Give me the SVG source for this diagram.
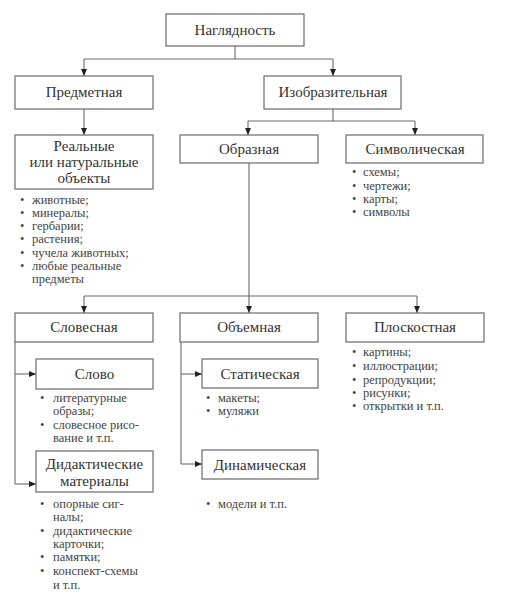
<svg xmlns="http://www.w3.org/2000/svg" width="508" height="608" viewBox="0 0 508 608" font-family="'Liberation Serif', 'DejaVu Serif', serif">
<style>
.box{fill:#fff;stroke:#6a6a6a;stroke-width:1.2}
.t{font-size:15px;fill:#333;text-anchor:middle}
.b{font-size:12.5px;fill:#444}
.c{fill:none;stroke:#6a6a6a;stroke-width:1.1}
</style>
<defs>
<marker id="ar" markerWidth="8" markerHeight="8" refX="7" refY="4" orient="auto" markerUnits="userSpaceOnUse">
<path d="M0,1 L7,4 L0,7 Z" fill="#222"/>
</marker>
</defs>
<rect width="508" height="608" fill="#fff"/>
<g id="connectors">
<path class="c" d="M235,46 V59 M84,59 H333"/>
<path class="c" d="M84,59 V76" marker-end="url(#ar)"/>
<path class="c" d="M333,59 V76" marker-end="url(#ar)"/>
<path class="c" d="M84,109 V135" marker-end="url(#ar)"/>
<path class="c" d="M333,109 V121 M248,121 H415"/>
<path class="c" d="M248,121 V135" marker-end="url(#ar)"/>
<path class="c" d="M415,121 V135" marker-end="url(#ar)"/>
<path class="c" d="M249,163 V296 M84,296 H417"/>
<path class="c" d="M84,296 V313" marker-end="url(#ar)"/>
<path class="c" d="M249,296 V313" marker-end="url(#ar)"/>
<path class="c" d="M417,296 V313" marker-end="url(#ar)"/>
<path class="c" d="M15,342 V484"/>
<path class="c" d="M15,374 H36" marker-end="url(#ar)"/>
<path class="c" d="M15,484 H36" marker-end="url(#ar)"/>
<path class="c" d="M181,342 V464"/>
<path class="c" d="M181,374 H202" marker-end="url(#ar)"/>
<path class="c" d="M181,464 H202" marker-end="url(#ar)"/>
</g>
<g id="n-naglyadnost">
<rect class="box" x="166" y="14" width="138" height="32"/>
<text class="t" x="235" y="35">Наглядность</text>
</g>
<g id="n-predmetnaya">
<rect class="box" x="15" y="76" width="138" height="33"/>
<text class="t" x="84" y="97">Предметная</text>
</g>
<g id="n-izobrazitelnaya">
<rect class="box" x="264" y="76" width="137" height="33"/>
<text class="t" x="333" y="97">Изобразительная</text>
</g>
<g id="n-realnye">
<rect class="box" x="15" y="135" width="138" height="54"/>
<text class="t" x="84" y="151">Реальные</text>
<text class="t" x="84" y="167">или натуральные</text>
<text class="t" x="84" y="183">объекты</text>
<text class="b" y="204"><tspan x="20">•</tspan><tspan x="32">животные;</tspan></text>
<text class="b" y="217"><tspan x="20">•</tspan><tspan x="32">минералы;</tspan></text>
<text class="b" y="230"><tspan x="20">•</tspan><tspan x="32">гербарии;</tspan></text>
<text class="b" y="243"><tspan x="20">•</tspan><tspan x="32">растения;</tspan></text>
<text class="b" y="257"><tspan x="20">•</tspan><tspan x="32">чучела животных;</tspan></text>
<text class="b" y="270"><tspan x="20">•</tspan><tspan x="32">любые реальные</tspan></text>
<text class="b" x="32" y="283">предметы</text>
</g>
<g id="n-obraznaya">
<rect class="box" x="180" y="135" width="138" height="28"/>
<text class="t" x="249" y="154">Образная</text>
</g>
<g id="n-simvolicheskaya">
<rect class="box" x="346" y="135" width="137" height="28"/>
<text class="t" x="415" y="154">Символическая</text>
<text class="b" y="176"><tspan x="352">•</tspan><tspan x="363">схемы;</tspan></text>
<text class="b" y="190"><tspan x="352">•</tspan><tspan x="363">чертежи;</tspan></text>
<text class="b" y="203"><tspan x="352">•</tspan><tspan x="363">карты;</tspan></text>
<text class="b" y="216"><tspan x="352">•</tspan><tspan x="363">символы</tspan></text>
</g>
<g id="n-slovesnaya">
<rect class="box" x="15" y="313" width="138" height="29"/>
<text class="t" x="84" y="332">Словесная</text>
</g>
<g id="n-obyemnaya">
<rect class="box" x="180" y="313" width="138" height="29"/>
<text class="t" x="249" y="332">Объемная</text>
</g>
<g id="n-ploskostnaya">
<rect class="box" x="346" y="313" width="138" height="29"/>
<text class="t" x="415" y="332">Плоскостная</text>
<text class="b" y="356"><tspan x="352">•</tspan><tspan x="363">картины;</tspan></text>
<text class="b" y="370"><tspan x="352">•</tspan><tspan x="363">иллюстрации;</tspan></text>
<text class="b" y="384"><tspan x="352">•</tspan><tspan x="363">репродукции;</tspan></text>
<text class="b" y="397"><tspan x="352">•</tspan><tspan x="363">рисунки;</tspan></text>
<text class="b" y="410"><tspan x="352">•</tspan><tspan x="363">открытки и т.п.</tspan></text>
</g>
<g id="n-slovo">
<rect class="box" x="36" y="359" width="117" height="30"/>
<text class="t" x="94.5" y="379">Слово</text>
<text class="b" y="402"><tspan x="40">•</tspan><tspan x="53">литературные</tspan></text>
<text class="b" x="53" y="415">образы;</text>
<text class="b" y="429"><tspan x="40">•</tspan><tspan x="53">словесное рисо-</tspan></text>
<text class="b" x="53" y="442">вание и т.п.</text>
</g>
<g id="n-didakticheskie">
<rect class="box" x="36" y="451" width="117" height="41"/>
<text class="t" x="94.5" y="469">Дидактические</text>
<text class="t" x="94.5" y="486">материалы</text>
<text class="b" y="508"><tspan x="40">•</tspan><tspan x="53">опорные сиг-</tspan></text>
<text class="b" x="53" y="521">налы;</text>
<text class="b" y="535"><tspan x="40">•</tspan><tspan x="53">дидактические</tspan></text>
<text class="b" x="53" y="548">карточки;</text>
<text class="b" y="561"><tspan x="40">•</tspan><tspan x="53">памятки;</tspan></text>
<text class="b" y="575"><tspan x="40">•</tspan><tspan x="53">конспект-схемы</tspan></text>
<text class="b" x="53" y="589">и т.п.</text>
</g>
<g id="n-staticheskaya">
<rect class="box" x="202" y="359" width="116" height="29"/>
<text class="t" x="260" y="379">Статическая</text>
<text class="b" y="402"><tspan x="206">•</tspan><tspan x="218">макеты;</tspan></text>
<text class="b" y="415"><tspan x="206">•</tspan><tspan x="218">муляжи</tspan></text>
</g>
<g id="n-dinamicheskaya">
<rect class="box" x="202" y="450" width="116" height="29"/>
<text class="t" x="260" y="470">Динамическая</text>
<text class="b" y="508"><tspan x="206">•</tspan><tspan x="218">модели и т.п.</tspan></text>
</g>
</svg>
